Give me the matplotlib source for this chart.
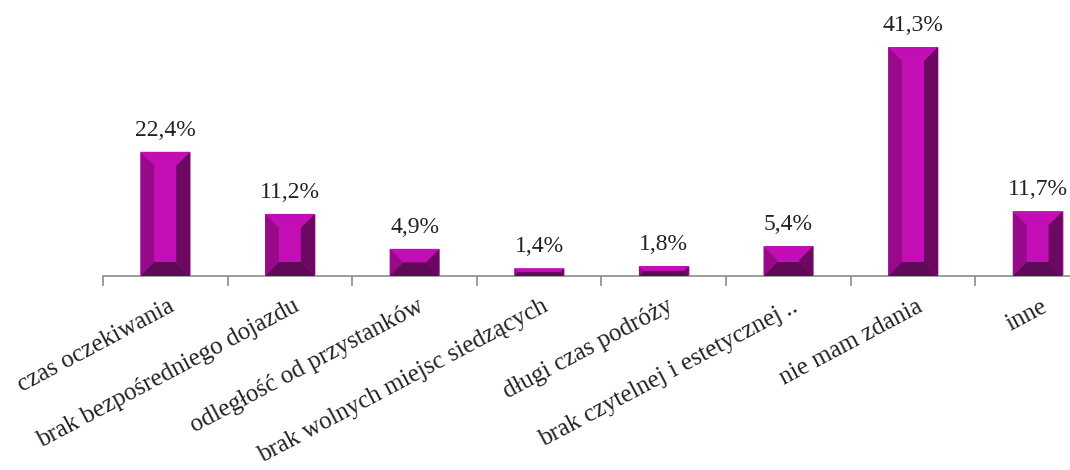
import matplotlib.pyplot as plt
from matplotlib.patches import Polygon
import numpy as np

plt.rcParams['font.family'] = ['Liberation Serif', 'DejaVu Serif']

categories = ['czas oczekiwania', 'brak bezpośredniego dojazdu', 'odległość od przystanków',
              'brak wolnych miejsc siedzących', 'długi czas podróży',
              'brak czytelnej i estetycznej\u2009..', 'nie mam zdania', 'inne']
values = [22.4, 11.2, 4.9, 1.4, 1.8, 5.4, 41.3, 11.7]
labels = ['22,4%', '11,2%', '4,9%', '1,4%', '1,8%', '5,4%', '41,3%', '11,7%']

W, H = 1070, 470
fig = plt.figure(figsize=(W / 100, H / 100), dpi=100)
# axes runs a little past the right edge, like the original
ax = fig.add_axes([103 / W, (H - 276) / H, 997 / W, 256 / H])

x = np.arange(len(values))
bars = ax.bar(x, values, width=0.40, color='#c40fb6', edgecolor='#e8a8e0', linewidth=0.6, zorder=2)
ax.set_xlim(-0.5, len(values) - 0.5)
ax.set_ylim(0, 46.17)

# pixel -> data units
px_x = (ax.get_xlim()[1] - ax.get_xlim()[0]) / 997
px_y = (ax.get_ylim()[1] - ax.get_ylim()[0]) / 256

c_top, c_left, c_right, c_bot = '#c20eb4', '#980a8a', '#6c0862', '#5e0a57'
for b in bars:
    x0, w, h = b.get_x(), b.get_width(), b.get_height()
    x1 = x0 + w
    h_px = h / px_y
    d = min(14, h_px / 2)
    dx, dy = d * px_x, d * px_y
    ix0, ix1 = x0 + dx, x1 - dx
    iy0, iy1 = dy, h - dy
    ax.add_patch(Polygon([(x0, h), (x1, h), (ix1, iy1), (ix0, iy1)], closed=True, color=c_top, lw=0, zorder=3))
    ax.add_patch(Polygon([(x0, 0), (x0, h), (ix0, iy1), (ix0, iy0)], closed=True, color=c_left, lw=0, zorder=3))
    ax.add_patch(Polygon([(x1, 0), (x1, h), (ix1, iy1), (ix1, iy0)], closed=True, color=c_right, lw=0, zorder=3))
    ax.add_patch(Polygon([(x0, 0), (x1, 0), (ix1, iy0), (ix0, iy0)], closed=True, color=c_bot, lw=0, zorder=3))

for xi, v, lab in zip(x, values, labels):
    ax.annotate(lab, (xi, v), xytext=(0, 8), textcoords='offset points',
                ha='center', va='bottom', fontsize=17, color='#222222')

for s in ['top', 'right', 'left']:
    ax.spines[s].set_visible(False)
ax.spines['bottom'].set_color('#8c8c8c')
ax.spines['bottom'].set_linewidth(1.2)
ax.set_yticks([])
ax.set_xticks(np.arange(len(values) + 1) - 0.5, minor=False)
ax.set_xticklabels([])
ax.tick_params(axis='x', length=7, width=1.2, color='#8c8c8c')

for xi, cat in zip(x, categories):
    ax.text(xi + 0.02, -3.5, cat, rotation=28, rotation_mode='anchor', ha='right', va='top',
            fontsize=18, color='#222222', family=['Liberation Serif', 'DejaVu Serif'])

fig.savefig('out.png', dpi=100)
